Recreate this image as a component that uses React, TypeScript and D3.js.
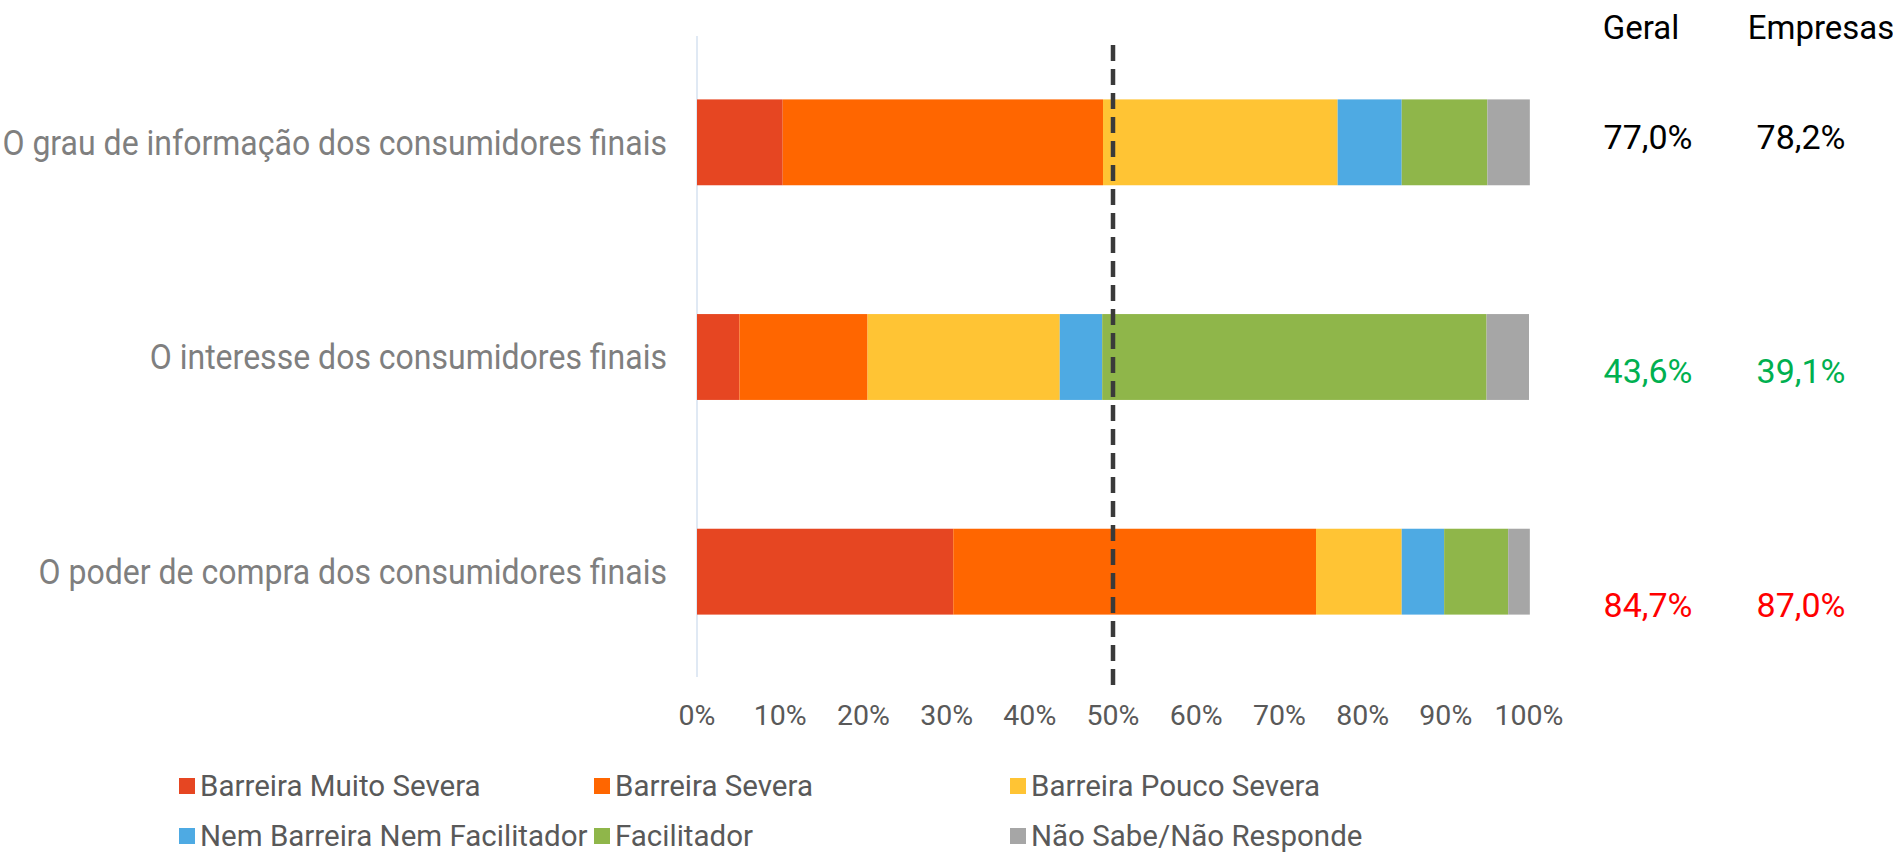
import { useEffect } from "react"
import * as d3 from "d3"

// categories (top to bottom) and the answer series, in % of respondents
const categories = [
  "O grau de informação dos consumidores finais",
  "O interesse dos consumidores finais",
  "O poder de compra dos consumidores finais",
]
const seriesNames = [
  "Barreira Muito Severa",
  "Barreira Severa",
  "Barreira Pouco Severa",
  "Nem Barreira Nem Facilitador",
  "Facilitador",
  "Não Sabe/Não Responde",
]
const muitoSevera = [10.3, 5.1, 30.8]
const severa = [38.5, 15.4, 43.6]
const poucoSevera = [28.2, 23.1, 10.3]
const nemNem = [7.7, 5.1, 5.1]
const facilitador = [10.3, 46.2, 7.7]
const naoSabe = [5.1, 5.1, 2.6]

const geral = ["77,0%", "43,6%", "84,7%"]
const empresas = ["78,2%", "39,1%", "87,0%"]
const valueKind = ["neutral", "good", "bad"]
const xTicks = [0, 10, 20, 30, 40, 50, 60, 70, 80, 90, 100]
const refValue = 50

const colors = ["#E64622", "#FF6600", "#FFC434", "#4EAAE3", "#8FB64A", "#A6A6A6"]
const valueColors: Record<string, string> = { neutral: "#000000", good: "#00B050", bad: "#FF0000" }

const W = 1893
const H = 852
const FONT = "Roboto, 'Noto Sans', sans-serif"

export default function App() {
  useEffect(() => {
    document.body.style.margin = "0"
  }, [])

  const x = d3.scaleLinear().domain([0, 100]).range([697, 1529])
  const y = d3.scaleBand<string>().domain(categories).range([35, 679]).paddingInner(0.6).paddingOuter(0.3)

  const rows = categories.map((c, i) => ({
    key: c,
    muito: muitoSevera[i],
    severa: severa[i],
    pouco: poucoSevera[i],
    nem: nemNem[i],
    fac: facilitador[i],
    ns: naoSabe[i],
  }))
  const keys = ["muito", "severa", "pouco", "nem", "fac", "ns"]
  const stacked = d3.stack<any>().keys(keys)(rows)

  const bw = y.bandwidth()
  const valueOffsets = [-5, 14, 33]
  const labelRight = 667

  return (
    <svg width={W} height={H} style={{ display: "block", background: "#fff" }} fontFamily={FONT}>
      {/* vertical category axis line */}
      <line x1={x(0)} x2={x(0)} y1={36} y2={677} stroke="#D6E2F0" strokeWidth={1.5} />

      {stacked.map((layer, li) => (
        <g key={layer.key} fill={colors[li]}>
          {layer.map((d, i) => (
            <rect
              key={i}
              x={x(d[0])}
              y={y(categories[i])!}
              width={x(d[1]) - x(d[0])}
              height={bw}
            />
          ))}
        </g>
      ))}

      {/* 50% reference line */}
      <line
        x1={x(refValue)}
        x2={x(refValue)}
        y1={45}
        y2={691}
        stroke="#3A3A3A"
        strokeWidth={4.5}
        strokeDasharray="16,8"
      />

      {/* category labels */}
      {categories.map((c) => (
        <text
          key={c}
          x={labelRight}
          y={y(c)! + bw / 2}
          dy="0.35em"
          textAnchor="end"
          fontSize={35}
          fill="#7F7F7F"
          transform={`translate(${labelRight},0) scale(0.915,1) translate(${-labelRight},0)`}
        >
          {c}
        </text>
      ))}

      {/* x tick labels */}
      {xTicks.map((t) => (
        <text key={t} x={x(t)} y={715} dy="0.35em" textAnchor="middle" fontSize={28.5} fill="#595959">
          {d3.format("d")(t)}%
        </text>
      ))}

      {/* right-hand summary columns */}
      <text x={1641} y={27} dy="0.35em" textAnchor="middle" fontSize={33} fill="#000">Geral</text>
      <text x={1821} y={27} dy="0.35em" textAnchor="middle" fontSize={33} fill="#000">Empresas</text>
      {categories.map((c, i) => (
        <g key={c} fontSize={34} fill={valueColors[valueKind[i]]}>
          <text x={1648} y={y(c)! + bw / 2 + valueOffsets[i]} dy="0.35em" textAnchor="middle">{geral[i]}</text>
          <text x={1801} y={y(c)! + bw / 2 + valueOffsets[i]} dy="0.35em" textAnchor="middle">{empresas[i]}</text>
        </g>
      ))}

      {/* legend */}
      {seriesNames.map((s, i) => {
        const col = i % 3
        const row = Math.floor(i / 3)
        const lx = [179, 594, 1010][col]
        const ly = 786 + row * 50
        return (
          <g key={s} transform={`translate(${lx},${ly})`}>
            <rect x={0} y={-8} width={16} height={16} fill={colors[i]} />
            <text x={21} y={0} dy="0.35em" fontSize={29.5} fill="#595959">{s}</text>
          </g>
        )
      })}
    </svg>
  )
}
